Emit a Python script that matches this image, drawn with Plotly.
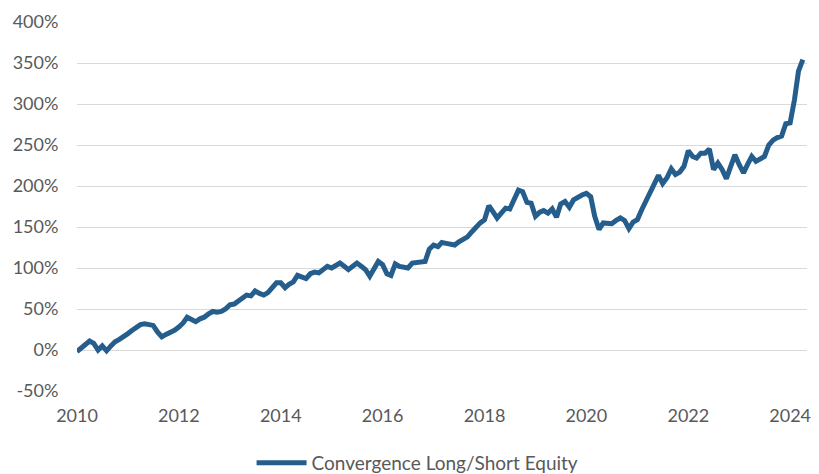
import plotly.graph_objects as go
import pandas as pd

# Monthly cumulative return (%), Jan 2010 onward
start_month = "2010-01-01"
values = [
    -2, 3, 7, 11, 8, 0, 5, -1, 5, 10, 13, 16,
    20, 24, 28, 31, 32, 31, 30, 22, 16, 19, 21, 24,
    28, 33, 40, 38, 34.5, 38, 40, 44, 47, 46, 47, 50,
    55, 56, 59, 63, 67, 66, 72, 69, 67, 70, 76, 82,
    82, 76, 80, 83, 91, 89, 87, 93, 95, 94, 99, 102,
    100, 103, 106, 102, 98, 102, 106, 102, 98, 90, 98, 108,
    104, 93, 91, 105, 102, 101, 100, 106, 107, 107, 108, 123,
    128, 126, 131, 130, 129, 128, 132, 135, 138, 144, 150, 155,
    159, 176, 169, 161, 167, 173, 172, 183, 195, 193, 180, 179,
    163, 168, 170, 167, 172, 162, 178, 181, 174, 183, 187, 189,
    191, 187, 163, 147, 155, 155, 154, 158, 161, 158, 148, 156,
    159, 171, 181, 191, 202, 213, 203, 210, 221, 214, 217, 224,
    243, 236, 234, 240, 240, 245, 220, 228, 220, 209, 224, 238,
    226, 216, 226, 236, 230, 233, 236, 250, 256, 259, 261, 276,
    277, 305, 340, 354,
]
dates = pd.date_range(start_month, periods=len(values), freq="MS")

series_name = "Convergence Long/Short Equity"
y_ticks = [-50, 0, 50, 100, 150, 200, 250, 300, 350, 400]
y_ticklabels = ["-50%", "0%", "50%", "100%", "150%", "200%", "250%", "300%", "350%", "400%"]
x_ticks = ["2010-01-01", "2012-01-01", "2014-01-01", "2016-01-01",
           "2018-01-01", "2020-01-01", "2022-01-01", "2024-01-01"]
x_ticklabels = ["2010", "2012", "2014", "2016", "2018", "2020", "2022", "2024"]

fig = go.Figure()
fig.add_trace(go.Scatter(
    x=dates, y=values, mode="lines", name=series_name,
    line=dict(color="#255E8C", width=5, shape="linear"),
))

font_family = "Lato, 'Open Sans', sans-serif"
fig.update_layout(
    width=811, height=466,
    margin=dict(l=69, r=12, t=14, b=83, autoexpand=False),
    paper_bgcolor="white", plot_bgcolor="white",
    font=dict(family=font_family, size=18, color="#595959"),
    showlegend=True,
    legend=dict(
        orientation="h", xref="container", yref="container",
        x=0.505, xanchor="center", y=0.024, yanchor="middle",
        font=dict(size=19, color="#595959"), itemwidth=50,
    ),
    xaxis=dict(
        type="date", range=["2010-01-01", "2024-05-01"],
        tickvals=x_ticks, ticktext=x_ticklabels,
        showgrid=False, zeroline=False, showline=False, automargin=False,
        ticks="outside", ticklen=8, tickcolor="rgba(0,0,0,0)",
    ),
    yaxis=dict(
        range=[-50, 400], tickvals=y_ticks, ticktext=y_ticklabels,
        showgrid=True, gridcolor="#D9D9D9", gridwidth=1,
        zeroline=False, showline=False, automargin=False,
        ticks="outside", ticklen=14, tickcolor="rgba(0,0,0,0)",
    ),
)

fig.write_html("out.html")
